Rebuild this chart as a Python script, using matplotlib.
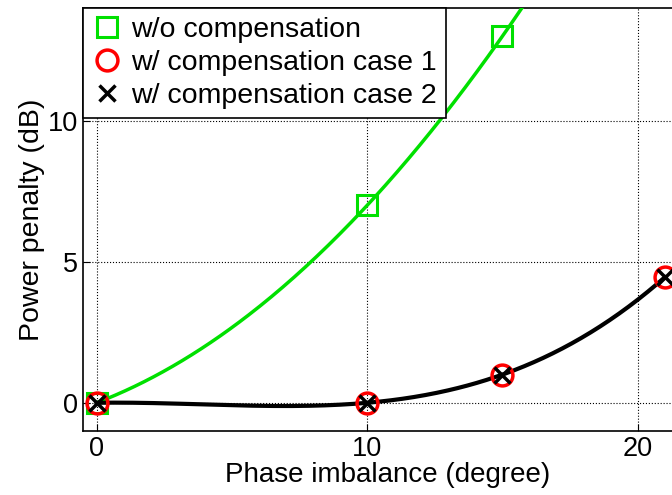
import numpy as np
import matplotlib.pyplot as plt

plt.rcParams['font.family'] = ['Liberation Sans', 'DejaVu Sans']

# measured points
x_wo = [0, 10, 15]
y_wo = [0, 7, 13]
x_c1 = [0, 10, 15, 21]
y_c1 = [0, 0, 1, 4.45]
x_c2 = [0, 10, 15, 21]
y_c2 = [0, 0, 1, 4.45]

fig = plt.figure(figsize=(6.72, 4.95), dpi=100)
ax = fig.add_axes([0.1235, 0.1293, 0.906, 0.8545])

# smooth fitted curves through the measured points
xs = np.linspace(0, 21, 300)
p_wo = np.polyfit(x_wo, y_wo, 2)
p_c = np.polyfit(x_c2, y_c2, 3)
ax.plot(xs, np.polyval(p_wo, xs), color='#00e000', lw=2.5, zorder=3)
ax.plot(xs, np.polyval(p_c, xs), color='black', lw=3, zorder=3)

ax.plot(x_wo, y_wo, ls='none', marker='s', ms=14, mfc='none', mec='#00e000',
        mew=2.2, label='w/o compensation', zorder=4)
ax.plot(x_c1, y_c1, ls='none', marker='o', ms=15, mfc='none', mec='#ff0000',
        mew=2.5, label='w/ compensation case 1', zorder=5)
ax.plot(x_c2, y_c2, ls='none', marker='x', ms=11, mec='black',
        mew=2.5, label='w/ compensation case 2', zorder=6)

ax.set_xlim(-0.5, 22)
ax.set_ylim(-1, 14)
ax.set_xticks([0, 10, 20])
ax.set_yticks([0, 5, 10])
ax.tick_params(direction='in', labelsize=19.5, length=5, width=0.8)
ax.grid(True, color='black', ls=':', lw=0.8)
ax.set_axisbelow(True)
ax.spines['right'].set_visible(False)
for s in ['left', 'top', 'bottom']:
    ax.spines[s].set_linewidth(1.2)

ax.set_xlabel('Phase imbalance (degree)', fontsize=20, labelpad=0)
ax.set_ylabel('Power penalty (dB)', fontsize=20.5, labelpad=2)

leg = ax.legend(loc='upper left', borderaxespad=0, fontsize=20.5, fancybox=False,
                framealpha=1, edgecolor='black', handlelength=1.0,
                handletextpad=0.35, labelspacing=0.24, borderpad=0.33)
leg.get_frame().set_linewidth(1.2)

fig.savefig('out.png', dpi=100)
